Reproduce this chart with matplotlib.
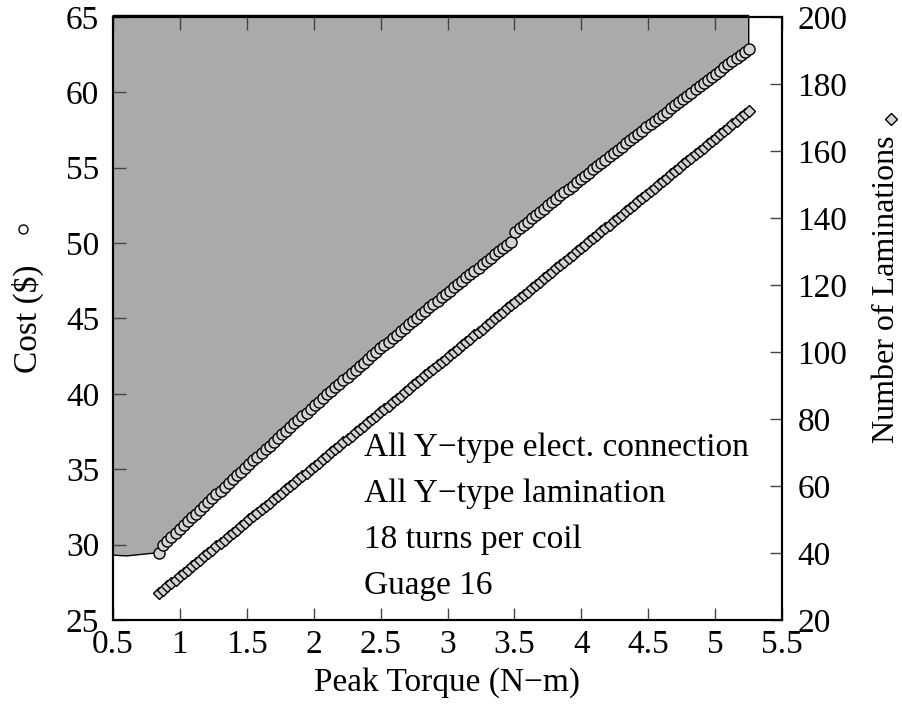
import matplotlib
matplotlib.use('Agg')
import matplotlib.pyplot as plt
from matplotlib.lines import Line2D

plt.rcParams['font.family'] = ['Liberation Serif', 'DejaVu Serif']
plt.rcParams['font.size'] = 24

# peak torque of each design (N-m)
torque = [
    0.845, 0.876, 0.906, 0.937, 0.967, 0.998, 1.029, 1.059, 1.090, 1.120,
    1.151, 1.182, 1.212, 1.243, 1.273, 1.304, 1.335, 1.365, 1.396, 1.426,
    1.457, 1.488, 1.518, 1.549, 1.579, 1.610, 1.641, 1.671, 1.702, 1.732,
    1.763, 1.794, 1.824, 1.855, 1.885, 1.916, 1.947, 1.977, 2.008, 2.038,
    2.069, 2.100, 2.130, 2.161, 2.191, 2.222, 2.253, 2.283, 2.314, 2.344,
    2.375, 2.406, 2.436, 2.467, 2.497, 2.528, 2.559, 2.589, 2.620, 2.650,
    2.681, 2.712, 2.742, 2.773, 2.803, 2.834, 2.865, 2.895, 2.926, 2.956,
    2.987, 3.018, 3.048, 3.079, 3.109, 3.140, 3.171, 3.201, 3.232, 3.262,
    3.293, 3.324, 3.354, 3.385, 3.415, 3.446, 3.477, 3.507, 3.538, 3.568,
    3.599, 3.630, 3.660, 3.691, 3.721, 3.752, 3.783, 3.813, 3.844, 3.874,
    3.905, 3.936, 3.966, 3.997, 4.027, 4.058, 4.089, 4.119, 4.150, 4.180,
    4.211, 4.242, 4.272, 4.303, 4.333, 4.364, 4.395, 4.425, 4.456, 4.486,
    4.517, 4.548, 4.578, 4.609, 4.639, 4.670, 4.701, 4.731, 4.762, 4.792,
    4.823, 4.854, 4.884, 4.915, 4.945, 4.976, 5.007, 5.037, 5.068, 5.098,
    5.129, 5.160, 5.190, 5.221, 5.251]

# cost ($)
cost = [
    29.47, 30.00, 30.26, 30.52, 30.77, 31.03, 31.29, 31.55, 31.80, 32.06,
    32.32, 32.58, 32.83, 33.08, 33.33, 33.58, 33.84, 34.09, 34.34, 34.59,
    34.84, 35.10, 35.34, 35.59, 35.83, 36.08, 36.33, 36.57, 36.82, 37.07,
    37.31, 37.56, 37.80, 38.04, 38.28, 38.52, 38.76, 39.00, 39.24, 39.49,
    39.73, 39.97, 40.20, 40.44, 40.67, 40.91, 41.14, 41.38, 41.61, 41.85,
    42.08, 42.32, 42.55, 42.78, 43.01, 43.24, 43.47, 43.69, 43.92, 44.15,
    44.38, 44.61, 44.84, 45.06, 45.28, 45.51, 45.73, 45.96, 46.18, 46.40,
    46.63, 46.85, 47.07, 47.29, 47.51, 47.72, 47.94, 48.16, 48.38, 48.60,
    48.82, 49.03, 49.25, 49.46, 49.68, 49.89, 50.10, 50.76, 50.98, 51.20,
    51.42, 51.64, 51.86, 52.07, 52.29, 52.51, 52.73, 52.95, 53.17, 53.38,
    53.60, 53.82, 54.03, 54.25, 54.46, 54.68, 54.90, 55.11, 55.33, 55.54,
    55.75, 55.97, 56.18, 56.40, 56.61, 56.82, 57.04, 57.25, 57.46, 57.67,
    57.88, 58.09, 58.30, 58.51, 58.73, 58.94, 59.15, 59.36, 59.57, 59.78,
    59.98, 60.19, 60.40, 60.61, 60.82, 61.02, 61.23, 61.44, 61.65, 61.85,
    62.06, 62.27, 62.47, 62.68, 62.88]

# number of laminations
laminations = [
    28, 29, 30, 31, 32, 33, 34, 35, 36, 37,
    38, 39, 40, 41, 42, 43, 44, 45, 46, 47,
    48, 49, 50, 51, 52, 53, 54, 55, 56, 57,
    58, 59, 60, 61, 62, 63, 64, 65, 66, 67,
    68, 69, 70, 71, 72, 73, 74, 75, 76, 77,
    78, 79, 80, 81, 82, 83, 84, 85, 86, 87,
    88, 89, 90, 91, 92, 93, 94, 95, 96, 97,
    98, 99, 100, 101, 102, 103, 104, 105, 106, 107,
    108, 109, 110, 111, 112, 113, 114, 115, 116, 117,
    118, 119, 120, 121, 122, 123, 124, 125, 126, 127,
    128, 129, 130, 131, 132, 133, 134, 135, 136, 137,
    138, 139, 140, 141, 142, 143, 144, 145, 146, 147,
    148, 149, 150, 151, 152, 153, 154, 155, 156, 157,
    158, 159, 160, 161, 162, 163, 164, 165, 166, 167,
    168, 169, 170, 171, 172]

# left end of the shaded (dominated) region
shade_x = [0.5, 0.5, 0.6]
shade_y = [65.1, 29.3, 29.25]
shade_top = 65.1

x_ticks = [0.5, 1, 1.5, 2, 2.5, 3, 3.5, 4, 4.5, 5, 5.5]
x_tick_labels = ['0.5', '1', '1.5', '2', '2.5', '3', '3.5', '4', '4.5', '5', '5.5']
cost_ticks = [25, 30, 35, 40, 45, 50, 55, 60, 65]
lam_ticks = [20, 40, 60, 80, 100, 120, 140, 160, 180, 200]

notes = ['All Y\u2212type elect. connection',
         'All Y\u2212type lamination',
         '18 turns per coil',
         'Guage 16']

fig = plt.figure(figsize=(9.02, 7.05), dpi=100)
ax = fig.add_axes([0.1253, 0.1206, 0.7417, 0.8553])

poly_x = shade_x + torque + [torque[-1]]
poly_y = shade_y + cost + [shade_top]
ax.fill(poly_x, poly_y, facecolor='#aaaaaa', edgecolor='black', linewidth=1,
        clip_on=False, zorder=1)
ax.plot(torque, cost, 'o', ms=8, mfc='#d3d3d3', mec='black', mew=1, zorder=3)

ax.set_xlim(0.5, 5.5)
ax.set_ylim(25, 65)
ax.set_xticks(x_ticks)
ax.set_xticklabels(x_tick_labels)
ax.set_yticks(cost_ticks)
ax.tick_params(axis='both', direction='in', length=9, width=1, color='#444444')
ax.tick_params(axis='x', top=True, pad=7)
ax.tick_params(axis='y', right=False, pad=10)

ax2 = ax.twinx()
ax2.plot(torque, laminations, 'D', ms=6.5, mfc='#d3d3d3', mec='black', mew=1)
ax2.set_ylim(20, 200)
ax2.set_yticks(lam_ticks)
ax2.tick_params(axis='y', direction='in', length=9, width=1, color='#444444', pad=11)

for a in (ax, ax2):
    for s in a.spines.values():
        s.set_linewidth(1.5)

for i, t in enumerate(notes):
    ax.text(0.375, 0.285 - i * 0.076, t, transform=ax.transAxes, va='center', ha='left')

fig.text(447.5 / 902, 1 - 683 / 705, 'Peak Torque (N\u2212m)', ha='center', va='center')
fig.text(28 / 902, 1 - 319 / 705, 'Cost ($)', rotation=90, ha='center', va='center')
fig.text(886 / 902, 1 - 289 / 705, 'Number of Laminations', rotation=90,
         ha='center', va='center', fontsize=23)
fig.add_artist(Line2D([23 / 902], [1 - 229 / 705], marker='o', ms=6.5, mfc='white',
                      mec='black', mew=1, transform=fig.transFigure))
fig.add_artist(Line2D([891 / 902], [1 - 119 / 705], marker='D', ms=6.5, mfc='#d3d3d3',
                      mec='black', mew=1, transform=fig.transFigure))

fig.savefig('out.png', dpi=100)
